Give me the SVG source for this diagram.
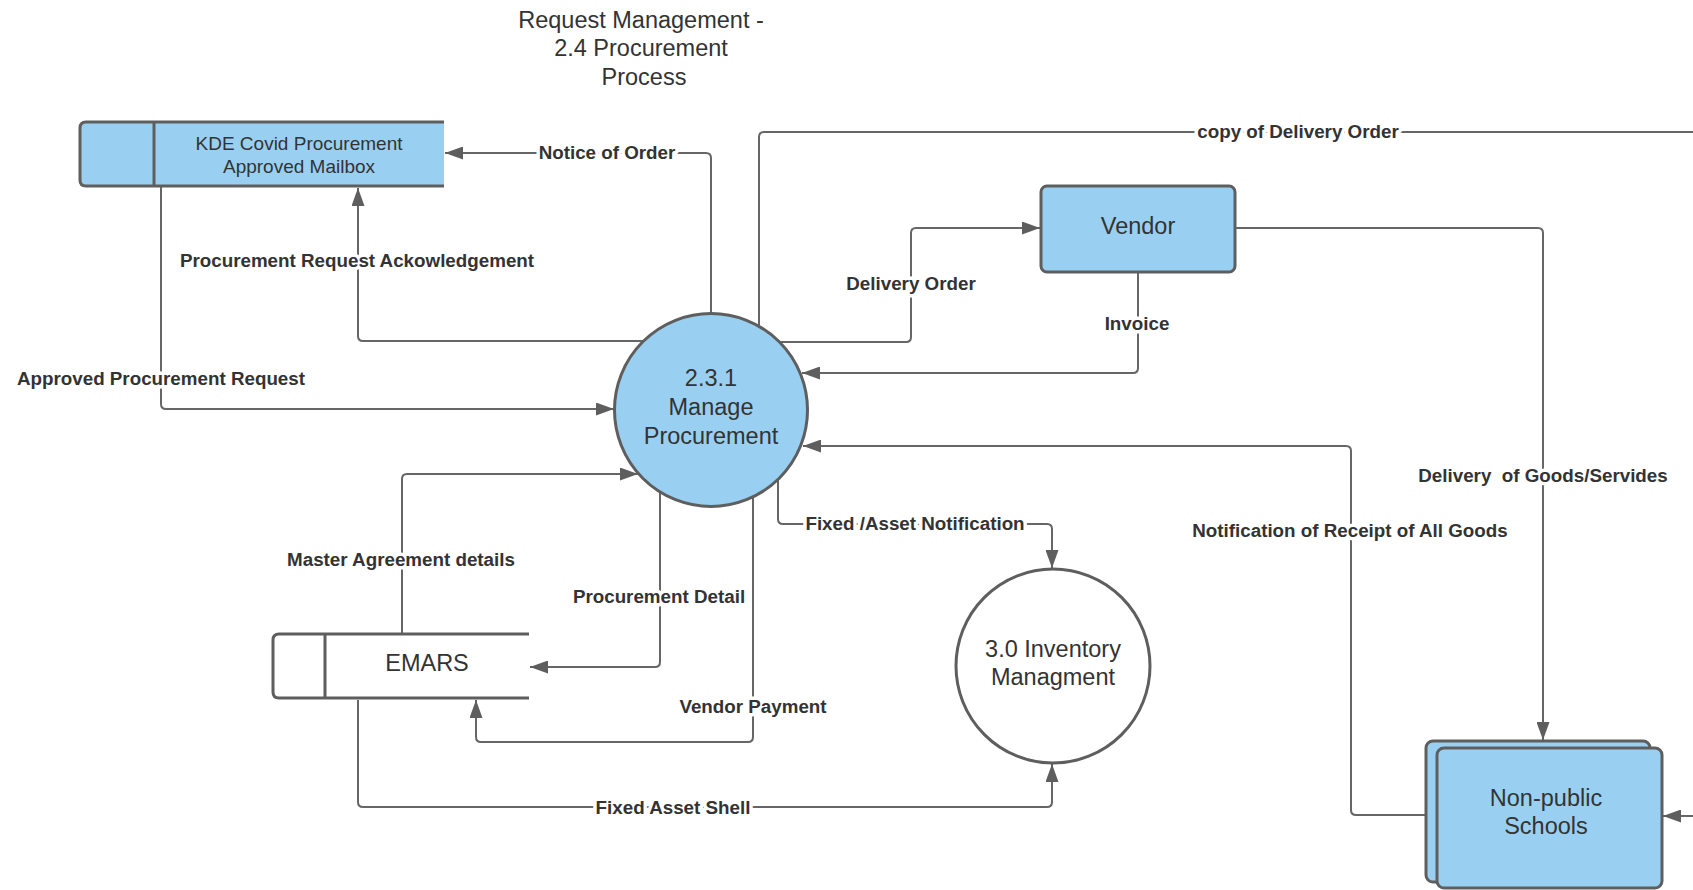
<svg xmlns="http://www.w3.org/2000/svg" width="1693" height="890" viewBox="0 0 1693 890">
<style>
.node{stroke:#5e5e5e;stroke-width:3;}
.blue{fill:#99d0f2;}
.conn{fill:none;stroke:#666;stroke-width:2;}
.nt{font-family:"Liberation Sans",Arial,sans-serif;font-size:23.5px;fill:#333;text-anchor:middle;}
.kt{font-family:"Liberation Sans",Arial,sans-serif;font-size:19px;fill:#333;text-anchor:middle;}
.lb{font-family:"Liberation Sans",Arial,sans-serif;font-size:18.8px;font-weight:bold;fill:#333;text-anchor:middle;stroke:#fff;stroke-width:7px;stroke-linejoin:round;paint-order:stroke;white-space:pre;}
</style>
<defs>
<marker id="arr" markerWidth="18" markerHeight="13" refX="18" refY="6.5" orient="auto" markerUnits="userSpaceOnUse">
<path d="M0,0 L18,6.5 L0,13 Z" fill="#5e5e5e"/>
</marker>
</defs>
<rect width="1693" height="890" fill="#fff"/>

<g id="title">
<text class="nt" x="641" y="28">Request Management -</text>
<text class="nt" x="641" y="56">2.4 Procurement</text>
<text class="nt" x="644" y="85">Process</text>
</g>

<g id="connectors">
<path class="conn" marker-end="url(#arr)" d="M711,313 L711,158 Q711,153 706,153 L445,153"/>
<path class="conn" marker-end="url(#arr)" d="M644,341 L363,341 Q358,341 358,336 L358,188"/>
<path class="conn" marker-end="url(#arr)" d="M161,187 L161,404 Q161,409 166,409 L614,409"/>
<path class="conn" marker-end="url(#arr)" d="M759,326 L759,137 Q759,132 764,132 L1720,132 L1720,816 L1663,816"/>
<path class="conn" marker-end="url(#arr)" d="M780,342 L906,342 Q911,342 911,337 L911,233 Q911,228 916,228 L1040,228"/>
<path class="conn" marker-end="url(#arr)" d="M1138,273 L1138,368 Q1138,373 1133,373 L802,373"/>
<path class="conn" marker-end="url(#arr)" d="M1236,228 L1538,228 Q1543,228 1543,233 L1543,740"/>
<path class="conn" marker-end="url(#arr)" d="M1425,815 L1356,815 Q1351,815 1351,810 L1351,451 Q1351,446 1346,446 L803,446"/>
<path class="conn" marker-end="url(#arr)" d="M778,479 L778,519 Q778,524 783,524 L1047,524 Q1052,524 1052,529 L1052,568"/>
<path class="conn" marker-end="url(#arr)" d="M402,633 L402,479 Q402,474 407,474 L638,474"/>
<path class="conn" marker-end="url(#arr)" d="M660,492 L660,662 Q660,667 655,667 L530,667"/>
<path class="conn" marker-end="url(#arr)" d="M753,497 L753,737 Q753,742 748,742 L481,742 Q476,742 476,737 L476,700"/>
<path class="conn" marker-end="url(#arr)" d="M358,700 L358,802 Q358,807 363,807 L1047,807 Q1052,807 1052,802 L1052,764"/>
<text class="lb" x="607" y="158.5">Notice of Order</text>
<text class="lb" x="357" y="266.5">Procurement Request Ackowledgement</text>
<text class="lb" x="161" y="384.5">Approved Procurement Request</text>
<text class="lb" x="1298" y="137.5">copy of Delivery Order</text>
<text class="lb" x="911" y="289.5">Delivery Order</text>
<text class="lb" x="1137" y="329.5">Invoice</text>
<text class="lb" x="1543" y="481.5">Delivery  of Goods/Servides</text>
<text class="lb" x="1350" y="536.5">Notification of Receipt of All Goods</text>
<text class="lb" x="915" y="529.5">Fixed /Asset Notification</text>
<text class="lb" x="401" y="565.5">Master Agreement details</text>
<text class="lb" x="659" y="602.5">Procurement Detail</text>
<text class="lb" x="753" y="712.5">Vendor Payment</text>
<text class="lb" x="673" y="813.5">Fixed Asset Shell</text>
</g>

<g id="kde-mailbox">
<path class="blue" d="M444,122 L86,122 Q80,122 80,128 L80,180 Q80,186 86,186 L444,186 Z"/>
<path class="node" fill="none" d="M444,122 L86,122 Q80,122 80,128 L80,180 Q80,186 86,186 L444,186 M154,122 L154,186"/>
<text class="kt" x="299" y="149.5">KDE Covid Procurement</text>
<text class="kt" x="299" y="172.5">Approved Mailbox</text>
</g>

<g id="manage-procurement">
<circle class="node blue" cx="711" cy="410" r="96.5"/>
<text class="nt" x="711" y="386">2.3.1</text>
<text class="nt" x="711" y="415">Manage</text>
<text class="nt" x="711" y="444">Procurement</text>
</g>

<g id="vendor">
<rect class="node blue" x="1041" y="186" width="194" height="86" rx="6"/>
<text class="nt" x="1138" y="234">Vendor</text>
</g>

<g id="emars">
<path fill="#fff" d="M529,634 L279,634 Q273,634 273,640 L273,692 Q273,698 279,698 L529,698 Z"/>
<path class="node" fill="none" d="M529,634 L279,634 Q273,634 273,640 L273,692 Q273,698 279,698 L529,698 M325,634 L325,698"/>
<text class="nt" x="427" y="671">EMARS</text>
</g>

<g id="inventory">
<circle class="node" fill="#fff" cx="1053" cy="666" r="97"/>
<text class="nt" x="1053" y="657">3.0 Inventory</text>
<text class="nt" x="1053" y="685">Managment</text>
</g>

<g id="non-public-schools">
<rect class="node blue" x="1426" y="741" width="224" height="141" rx="7"/>
<rect class="node blue" x="1437" y="748" width="225" height="140" rx="7"/>
<text class="nt" x="1546" y="806">Non-public</text>
<text class="nt" x="1546" y="834">Schools</text>
</g>
</svg>
